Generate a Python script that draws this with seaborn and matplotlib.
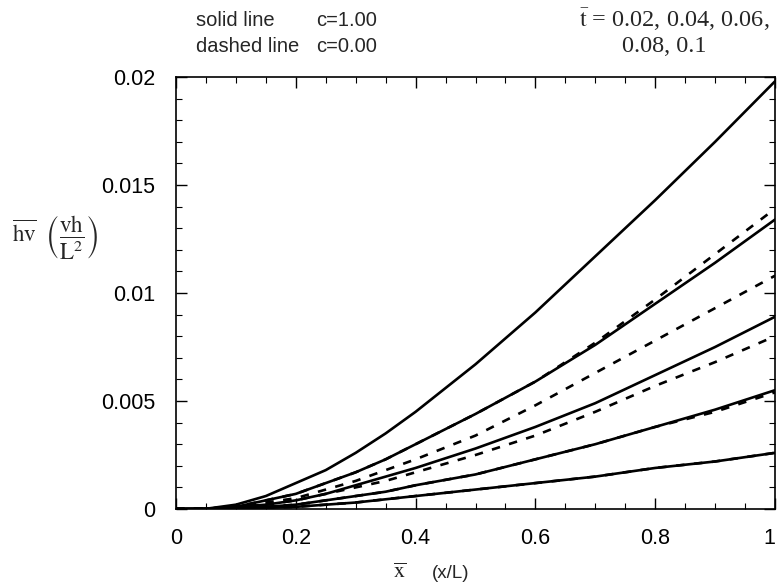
import numpy as np
import pandas as pd
import matplotlib
matplotlib.use("Agg")
import matplotlib.pyplot as plt
import seaborn as sns

# ---- data ----
x_vals = [0, 0.05, 0.1, 0.15, 0.2, 0.25, 0.3, 0.35, 0.4, 0.5, 0.6, 0.7, 0.8, 0.9, 1.0]

# solid lines, c = 1.00, t = 0.1, 0.08, 0.06, 0.04, 0.02
solid_t010 = [0, 0.00001, 0.0002, 0.0006, 0.0012, 0.0018, 0.0026, 0.0035, 0.0045, 0.0067, 0.0091, 0.0117, 0.0143, 0.0170, 0.0198]
solid_t008 = [0, 0.00001, 0.0001, 0.0004, 0.0007, 0.0012, 0.0017, 0.0023, 0.0030, 0.0044, 0.0059, 0.0076, 0.0095, 0.0114, 0.0134]
solid_t006 = [0, 0.00001, 0.0001, 0.0002, 0.0004, 0.0007, 0.0011, 0.0015, 0.0019, 0.0028, 0.0038, 0.0049, 0.0062, 0.0075, 0.0089]
solid_t004 = [0, 0.00001, 0.00005, 0.0001, 0.0002, 0.0004, 0.0006, 0.0008, 0.0011, 0.0016, 0.0023, 0.0030, 0.0038, 0.0046, 0.0055]
solid_t002 = [0, 0.0, 0.00002, 0.00005, 0.0001, 0.0002, 0.0003, 0.00045, 0.0006, 0.0009, 0.0012, 0.0015, 0.0019, 0.0022, 0.0026]

# dashed lines, c = 0.00
dashed_t010 = [0, 0.00001, 0.0001, 0.0004, 0.0007, 0.0012, 0.0017, 0.0023, 0.0030, 0.0044, 0.0059, 0.0077, 0.0097, 0.0118, 0.0139]
dashed_t008 = [0, 0.00001, 0.0001, 0.0003, 0.0005, 0.0009, 0.0013, 0.0018, 0.0023, 0.0034, 0.0048, 0.0063, 0.0078, 0.0093, 0.0108]
dashed_t006 = [0, 0.00001, 0.0001, 0.0002, 0.0004, 0.0007, 0.0010, 0.0013, 0.0017, 0.0025, 0.0034, 0.0045, 0.0057, 0.0068, 0.0080]
dashed_t004 = [0, 0.00001, 0.00005, 0.0001, 0.0002, 0.0004, 0.0006, 0.0008, 0.0011, 0.0016, 0.0023, 0.0030, 0.0038, 0.0045, 0.0054]
dashed_t002 = [0, 0.0, 0.00002, 0.00005, 0.0001, 0.0002, 0.0003, 0.00045, 0.0006, 0.0009, 0.0012, 0.0015, 0.0019, 0.0022, 0.0026]

x_ticks = [0, 0.2, 0.4, 0.6, 0.8, 1.0]
x_tick_labels = ["0", "0.2", "0.4", "0.6", "0.8", "1"]
y_ticks = [0, 0.005, 0.01, 0.015, 0.02]
y_tick_labels = ["0", "0.005", "0.01", "0.015", "0.02"]

series = {
    ("1.00", "0.1"): solid_t010, ("1.00", "0.08"): solid_t008, ("1.00", "0.06"): solid_t006,
    ("1.00", "0.04"): solid_t004, ("1.00", "0.02"): solid_t002,
    ("0.00", "0.1"): dashed_t010, ("0.00", "0.08"): dashed_t008, ("0.00", "0.06"): dashed_t006,
    ("0.00", "0.04"): dashed_t004, ("0.00", "0.02"): dashed_t002,
}
rows = []
for (c, t), vals in series.items():
    for xv, yv in zip(x_vals, vals):
        rows.append({"x": xv, "v": yv, "c": c, "curve": f"c{c}_t{t}"})
df = pd.DataFrame(rows)

# ---- plot ----
sns.set_style("ticks")
plt.rcParams["font.family"] = ["Liberation Sans", "DejaVu Sans"]
plt.rcParams["mathtext.fontset"] = "stix"
plt.rcParams["lines.solid_capstyle"] = "round"
plt.rcParams["lines.solid_joinstyle"] = "round"

W, H = 780, 584
L, R, T, B = 176, 775, 77, 509
fig = plt.figure(figsize=(W/100, H/100), dpi=100)
ax = fig.add_axes([L/W, 1-B/H, (R-L)/W, (B-T)/H])

sns.lineplot(data=df, x="x", y="v", units="curve", estimator=None, style="c",
             style_order=["1.00", "0.00"], dashes={"1.00": "", "0.00": (3.2, 3.6)},
             color="black", linewidth=1.9, legend=False, sort=False, ax=ax)

ax.set_xlim(0, 1)
ax.set_ylim(0, 0.02)
ax.set_xticks(x_ticks)
ax.set_xticklabels(x_tick_labels)
ax.set_yticks(y_ticks)
ax.set_yticklabels(y_tick_labels)
ax.get_xticklabels()[-1].set_ha("right")
ax.set_xticks(np.arange(0, 1.0001, 0.05), minor=True)
ax.set_yticks(np.arange(0, 0.02001, 0.001), minor=True)
ax.tick_params(which="both", direction="in", top=True, right=True, colors="black")
ax.tick_params(which="major", length=8, width=1.0, labelsize=15.5)
ax.tick_params(axis="x", which="major", pad=14)
ax.tick_params(axis="y", which="major", pad=15)
ax.tick_params(which="minor", length=4.5, width=0.8)
ax.set_xlabel("")
ax.set_ylabel("")
for s in ax.spines.values():
    s.set_linewidth(1.2)
    s.set_color("black")

# labels
fig.text(400/W, 1-573/H, r"$\overline{\mathrm{x}}$", fontsize=16, ha="center", va="center")
fig.text(451/W, 1-574/H, "(x/L)", fontsize=13.5, ha="center", va="center")
fig.text(12/W, 1-237/H, r"$\overline{\mathrm{hv}}\ \ \left(\dfrac{\mathrm{vh}}{\mathrm{L}^{2}}\right)$",
         fontsize=16.5, ha="left", va="center")

fig.text(196/W, 1-20/H, "solid line", fontsize=14.5, ha="left", va="center")
fig.text(316/W, 1-20/H, "c=1.00", fontsize=14.5, ha="left", va="center")
fig.text(196/W, 1-47/H, "dashed line", fontsize=14.5, ha="left", va="center")
fig.text(316/W, 1-47/H, "c=0.00", fontsize=14.5, ha="left", va="center")

fig.text(770/W, 1-20/H, r"$\bar{\mathrm{t}}$ = 0.02, 0.04, 0.06,", fontsize=17.5,
         family=["Liberation Serif"], ha="right", va="center")
fig.text(664/W, 1-47/H, "0.08, 0.1", fontsize=17.5,
         family=["Liberation Serif"], ha="center", va="center")

fig.savefig("out.png", dpi=100)
